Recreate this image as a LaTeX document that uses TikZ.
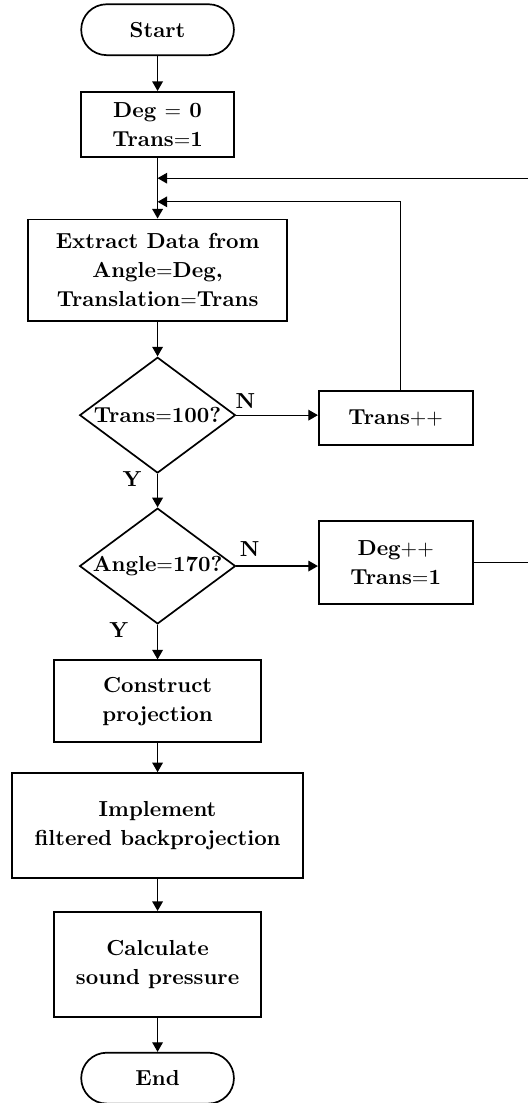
\documentclass[tikz,border=0pt]{standalone}
\usetikzlibrary{shapes.geometric,arrows.meta}

\tikzset{
  procbox/.style={draw, line width=0.8pt, rectangle, align=center, font=\fontsize{10.2}{13.6}\selectfont\bfseries},
  termbox/.style={draw, line width=0.8pt, rectangle, rounded corners=0.42cm, align=center, font=\fontsize{10.2}{13.6}\selectfont\bfseries, minimum width=2.52cm, minimum height=0.84cm},
  decbox/.style={draw, line width=0.8pt, diamond, aspect=1.35, inner sep=0pt, align=center, font=\fontsize{10.2}{13.6}\selectfont\bfseries, minimum width=2.57cm, minimum height=1.91cm},
  flowarrow/.style={line width=0.6pt, -{Triangle[length=4.5pt,width=5pt]}},
  branchlabel/.style={font=\fontsize{10.2}{13.6}\selectfont\bfseries, inner sep=1pt}
}

\begin{document}
\begin{tikzpicture}[scale=1]

    \useasboundingbox (0,0) rectangle (8.71,-18.20);

            % Main column of the flowchart
            \node[termbox] (start) at (2.60,-0.49) {Start};
            \node[procbox, minimum width=2.52cm, minimum height=1.07cm] (init) at (2.60,-2.05) {Deg $=$ 0\\Trans$=$1};
            \node[procbox, minimum width=4.27cm, minimum height=1.68cm] (extract) at (2.60,-4.46) {Extract Data from\\Angle$=$Deg,\\Translation$=$Trans};
            \node[decbox] (chktrans) at (2.60,-6.85) {Trans$=$100?};
            \node[decbox] (chkangle) at (2.60,-9.34) {Angle$=$170?};
            \node[procbox, minimum width=3.42cm, minimum height=1.35cm] (construct) at (2.60,-11.57) {Construct\\projection};
            \node[procbox, minimum width=4.80cm, minimum height=1.73cm] (implement) at (2.60,-13.62) {Implement\\filtered backprojection};
            \node[procbox, minimum width=3.42cm, minimum height=1.73cm] (calc) at (2.60,-15.91) {Calculate\\sound pressure};
            \node[termbox] (end) at (2.60,-17.79) {End};

            % Side boxes of the two loops
            \node[procbox, minimum width=2.54cm, minimum height=0.89cm] (incTrans) at (6.53,-6.90) {Trans$++$};
            \node[procbox, minimum width=2.54cm, minimum height=1.37cm] (incDeg) at (6.53,-9.28) {Deg$++$\\Trans$=$1};

            % Points where the loops join the main line
            \coordinate (join1) at (2.60,-2.94);
            \coordinate (join2) at (2.60,-3.33);
            \coordinate (farright) at (9.30,-9.28);

            % Branch labels
            \node[branchlabel] (n1) at (4.05,-6.62) {N};
            \node[branchlabel] (y1) at (2.18,-7.90) {Y};
            \node[branchlabel] (n2) at (4.12,-9.06) {N};
            \node[branchlabel] (y2) at (1.96,-10.40) {Y};


    % Draw the connectors of the main column
    \draw[flowarrow] (start) -- (init);
    \draw[flowarrow] (init) -- (extract);
    \draw[flowarrow] (extract) -- (chktrans);
    \draw[flowarrow] (chktrans) -- (chkangle);
    \draw[flowarrow] (chkangle) -- (construct);
    \draw[flowarrow] (construct) -- (implement);
    \draw[flowarrow] (implement) -- (calc);
    \draw[flowarrow] (calc) -- (end);

    % Draw the 'N' branches and the loops back
    \draw[flowarrow] (chktrans.east) -- (chktrans.east -| incTrans.west);
    \draw[flowarrow] (chkangle.east) -- (chkangle.east -| incDeg.west);
    \draw[flowarrow] ([xshift=0.08cm]incTrans.north) |- (join2);
    \draw[flowarrow] (incDeg.east) -- (farright) |- (join1);

        \end{tikzpicture}
\end{document}
